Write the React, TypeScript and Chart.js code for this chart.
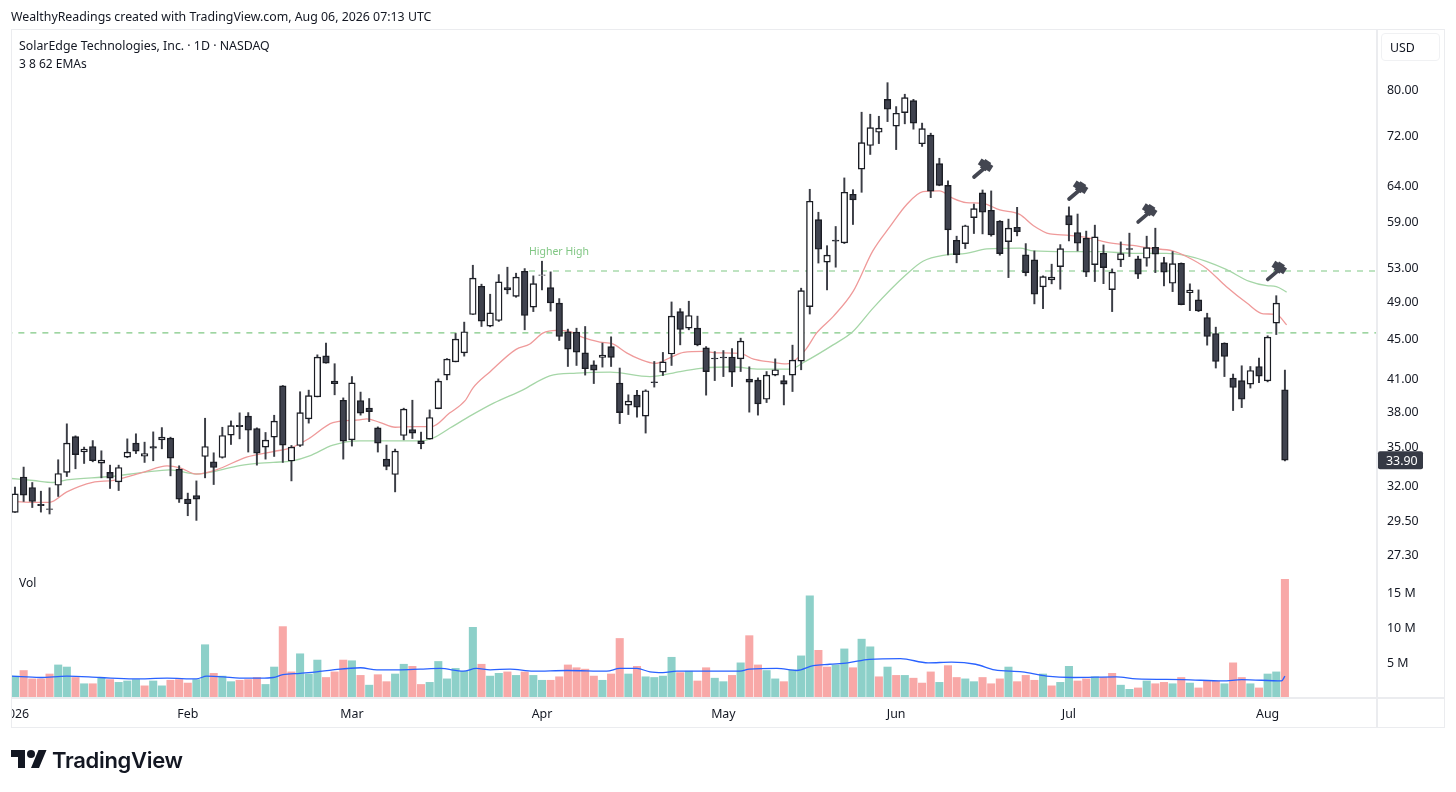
import React, { useEffect, useRef } from "react";
import { Chart, registerables } from "chart.js";

Chart.register(...registerables);

const opens = [30.04,32.6,31.82,30.6,30.29,31.99,32.95,35.8,34.56,34.99,33.67,32.95,32.24,34.14,35.26,34.22,34.99,35.53,35.67,33.2,30.98,31.24,34.19,33.77,34.11,35.92,36.75,37.53,36.47,34.94,35.75,40.26,33.83,35.07,37.3,39.24,43.15,40.7,38.94,35.53,38.91,38.23,36.53,33.98,32.79,35.89,36.39,35.45,35.59,38.19,41.27,42.55,43.45,47.48,50.69,46.22,46.83,50.53,49.52,52.48,48.29,51.96,50.53,48.74,45.62,45.59,43.45,42.27,42.99,44.08,40.51,38.5,39.4,37.53,40.63,41.56,43.33,47.8,46,46,43.95,42.92,43.03,43.03,42.85,40.89,40.79,39.03,41.27,40.75,41.27,42.63,48.36,59.14,53.59,56.4,56.03,62.71,66.45,70.19,72.38,78.1,73.4,75.74,77.87,70.47,71.89,67.3,64,56.38,55.94,59.41,62.9,60.43,58.93,56.2,58.1,54.5,53.87,50.61,51.44,53.04,59.69,57.4,56.64,53.28,54.71,50.3,53.87,55.3,54,54.08,55.47,53.54,51.04,53.46,49.95,49.11,47.15,45.44,44.44,40.98,40.75,40.42,42.1,40.72,46.55,39.89];
const highs = [31.85,33.36,32.19,31.55,31.8,33.93,36.87,35.86,34.94,35.47,34.64,33.51,33.51,35.61,36.03,35.34,36.19,36.55,35.75,33.46,31.41,32.31,37.35,34.48,36.58,37.12,37.82,37.84,36.53,36.14,37.61,40.29,35.07,39.71,39.86,43.25,44.44,42.37,39.15,41.13,39.68,39.09,36.61,35.1,34.78,38.23,38.94,36.17,38.08,40.91,42.88,45.44,46.65,53.21,50.93,49.76,52.07,52.97,52.24,52.8,51.92,53.71,52.4,49.26,45.9,46,46.18,42.66,44.44,45.09,41.95,39.43,39.83,39.89,42.59,43.49,48.88,48.13,48.96,47.3,44.08,43.58,43.68,43.88,44.95,42.07,41.01,41.61,42.85,41.23,44.23,50.46,63.43,60.15,55.67,58.2,65.12,63.37,75.81,75.46,75.1,81.17,76.8,79.03,78.1,73.92,72.22,68.15,64.67,56.91,58.38,61.3,63.33,63.19,59,59.2,60.84,55.94,55,51.92,53.34,55.81,60.9,59.9,57.58,58.38,55.77,52.76,56.16,57.31,54.34,56.91,57.97,54.2,54.92,53.5,50.97,50.26,47.62,46.11,44.47,41.37,42.17,42.1,42.93,45.2,49.59,41.75];
const lows = [30.04,30.81,30.38,30.06,29.93,31.17,32.64,33.23,33.64,33.77,32.54,31.75,31.6,34.09,34.42,33.72,33.85,34.8,32.69,30.74,29.81,29.49,32.54,32.04,34.06,35.15,35.61,34.54,33.51,33.98,34.19,33.72,32.31,34.99,36.93,39.24,42.43,39.43,33.98,35.02,37.62,37.06,34.54,33.15,31.5,35.53,35.64,34.8,35.59,38.17,40.82,42.55,43.12,47.48,46.18,46.15,46.72,49.8,49.41,45.83,47.8,50.26,47.85,44.71,42.1,42.2,41.27,40.47,42.04,42.1,36.89,37.67,37.44,36.09,40.14,41.23,42.2,44.26,45.83,44.16,39.4,40.75,41.13,40.19,41.61,37.88,37.62,38.73,41.2,38.52,39.73,41.78,47.53,53.48,50.26,52.97,55.95,58.47,62.99,68.75,70.5,74.18,69.53,73.8,72.89,70.04,62.22,63.95,54.5,53.51,55.3,57.26,57.21,56.91,54.46,51.71,56.95,51.92,48.66,48.13,50.97,50.34,56.29,55,51.83,51.24,50.99,47.8,53.04,54.29,51.6,53.09,52.31,50.73,50.06,48.55,47.91,47.8,44.23,41.95,41.13,38.02,38.28,40.05,40.56,40.63,45.33,33.84];
const closes = [31.36,31.27,30.81,30.52,30.24,32.87,35.26,34.33,34.78,33.85,33.9,32.52,33.33,34.54,34.62,34.42,34.86,35.75,34.06,30.98,30.65,30.98,34.99,33.33,35.89,36.72,36.63,36.33,34.46,35.5,37.1,35.1,34.94,37.84,39.36,43.02,42.43,40.45,35.42,40.54,37.79,37.93,35.26,33.41,34.62,38.14,36.09,35.21,37.41,40.7,42.83,44.85,45.62,51.64,46.76,47.66,51.2,50.26,51.76,47.37,51,52.04,48.77,45.12,43.82,43.52,41.88,41.75,43.22,42.99,37.84,38.86,38.32,39.8,40.56,42.55,47.3,45.86,47.37,44.26,41.61,42.84,42.95,41.56,44.65,40.6,38.61,41.27,41.78,40.42,42.73,50.18,61.7,55.21,54.46,56.26,63,61.89,70.66,73.16,73.06,76.33,75.63,78.42,73.92,72.99,63.14,64,57.75,54.54,58.3,60.65,60.15,57.08,54.66,57.97,57.52,52.31,49.76,51.83,51.76,55.3,58.42,55.99,52.36,56.81,52.92,52.36,54.66,55.2,52.11,55.42,54.59,52.36,53.41,48.58,50.23,47.88,45.12,42.59,43.08,40.1,39.03,41.71,41.17,45.06,48.74,33.9];

const volumes = [3.0,3.8,2.6,2.6,3.3,4.6,4.3,2.8,1.9,1.9,2.7,2.5,2.1,2.3,2.5,1.6,2.3,1.6,2.4,2.5,2.0,2.5,7.5,3.4,3.0,2.2,2.4,2.5,2.8,1.8,4.3,10.1,3.6,6.2,3.3,5.3,2.8,3.6,5.3,5.2,3.1,1.7,3.2,2.2,3.3,4.7,4.4,1.8,2.1,5.1,2.6,4.1,3.7,10.0,4.7,3.0,3.4,3.6,3.1,3.6,3.1,2.4,2.4,2.9,4.6,4.2,4.0,3.0,2.4,3.3,8.4,3.3,4.4,2.9,2.8,3.0,5.7,3.5,3.7,2.3,4.2,2.7,2.2,3.1,4.9,8.8,4.6,3.8,2.6,2.2,3.9,5.9,14.5,6.7,4.3,4.6,6.9,4.2,8.3,7.2,2.9,4.3,3.1,3.1,2.7,2.0,3.6,2.1,4.5,2.8,2.6,2.2,2.8,1.9,2.6,4.3,2.2,3.1,2.4,3.3,1.6,2.1,4.4,2.3,2.6,2.9,2.8,3.4,1.7,1.1,1.3,2.3,1.9,2.1,1.9,2.8,2.0,1.3,2.3,2.3,1.9,4.9,2.8,1.9,1.3,3.3,3.6,16.9];
const volumeDirection = "GRRRRGGRGRGRGGGRGGRRRGGRGGRRRGGRRGGGRRRGRGRRGGRRGGGGGGRGGRGRGGRRRRRRGRRGRGGGGRGRRGGRGRRGGRGGGRRGGRGGRGRGRRRGRRGGRRRGRRRGRGGRRGRRGGRGRRGRGRRRGRRGRGGR".split("");

const emaFastIdx = [0,2.1,4,6,9,11.4,14.9,17.6,19.1,21,23.3,26.8,29.9,32,34.1,36.8,39.9,40.7,42.2,44,46.1,48.2,50.3,52.1,53,55,58,59.6,61.1,62.7,64.2,65.8,67.7,69.2,70.8,72.3,74.1,75.8,77.4,79.7,81.2,83.9,85.5,87.4,89.3,91.5,92.8,94.7,97,99.3,101.3,103.2,105.1,107,108.6,110.1,112,114,116.3,117.9,119.8,121.7,124,126.4,129.4,131.4,134,135.6,137.9,140.2,142.6,144.5,146,147.2];
const emaFastVal = [30.8,30.75,30.75,31.5,32.2,32.35,32.97,33.45,33.3,32.82,33.15,34.14,34.58,34.9,35.67,36.97,37.21,37.3,37,36.58,36.63,36.63,37.8,38.9,40.05,41.6,43.8,44.35,45.48,45.77,45.65,45,44.55,44.35,43.45,42.82,42.4,42.95,43.5,43.6,43.45,43.4,42.82,42.55,42.35,43.75,45.5,47.25,50.05,55,58.2,61.2,63.1,63.2,62.1,61.5,61.4,60.47,59.85,58.3,57.2,57.05,56.75,56.1,55.7,55.35,55,54.3,52.85,50.65,48.75,47.55,47.5,46.35];

const emaSlowIdx = [-0.4,2.1,4.4,6,11,14.9,17.9,21,23,26,29.9,32,34.1,36.8,39.9,47,48.4,50.3,52.9,55.4,58.8,61.9,65,68.9,73.5,77,79.7,83.1,86.2,89.7,91.5,94.7,97,99.3,103.2,105.1,107.8,110.1,112.5,116.3,117.9,121.7,125.6,129.4,133.3,135.6,137.9,140.2,142.9,144.9,146,147.2];
const emaSlowVal = [32.49,32.34,32.19,32.39,32.64,32.95,33.15,32.84,33.02,33.48,33.73,33.83,34.24,35.1,35.45,35.45,35.68,36.49,37.64,38.68,39.89,41.2,41.46,41.56,41.13,41.61,41.95,42.05,41.85,41.85,42.6,44.26,45.65,48.16,52.1,53.7,54.5,54.7,55.25,55.35,55,54.9,54.9,54.7,54.7,54.4,53.7,52.7,51.25,50.75,50.65,50];

const volMaIdx = [-0.4,2.9,6,9.8,13.7,17.6,21,22.2,24.1,26,28.4,29.9,31,33,34.9,36.8,40,41.9,44.3,46.9,49.2,51.9,53.4,55,57.3,60,63.9,68.5,70,72,73.5,75,76.6,83.9,85,88.2,90.5,92.4,94.3,96.4,98.9,102.5,105.7,108.4,111.2,113.4,116.6,119.4,122.5,127.5,129.8,135.2,139.8,142,146.6,147];
const volMaVal = [3,2.8,3,2.8,2.6,2.7,2.6,3,2.9,2.7,2.7,2.8,3.2,3.4,3.6,3.9,4.2,3.9,3.9,4,4.1,3.7,4.1,3.9,4,3.7,3.8,3.7,4.1,4.1,3.6,3.5,3.7,3.7,4,4.1,3.8,4.5,4.7,4.9,5.4,5.5,4.9,5,4.7,3.9,3.6,3,2.8,2.9,2.6,2.5,2.3,2.5,2.3,3];

const priceTicks = [80,72,64,59,53,49,45,41,38,35,32,29.5,27.3];
const volumeTicks = [5,10,15];
const timeTickIdx = [0,20,39,61,82,102,122,145];
const timeTickLabels = ["2026","Feb","Mar","Apr","May","Jun","Jul","Aug"];

const supportLevel = 45.5;
const resistanceLevel = 52.5;
const resistanceStartIdx = 59.5;
const annotationText = "Higher High";
const annotationIdx = 59.5;
const annotationPrice = 54.8;
const hammerIdx = [112,123,131,146];
const hammerPrice = [66.4,63.1,59.85,52.4];

const UI_FONT = '"Noto Sans", sans-serif';
const AXIS_FONT = { family: UI_FONT, size: 12.4 };
const FRAME = "#ebecef";
const lastBar = closes.length - 1;

const framePlugin = {
  id: "frame",
  beforeDraw(chart: any) {
    if (chart.$labelsNudged) return;
    chart.$labelsNudged = true;
    for (const id of ["y", "yVol"]) {
      chart.scales[id].getLabelItems(chart.chartArea).forEach((item: any) => {
        item.options.translation[1] += 1.5;
      });
    }
  },
  afterDraw(chart: any) {
    const { ctx, chartArea: a, scales } = chart;
    ctx.save();
    // hide the part of the first time label that falls left of the pane
    ctx.fillStyle = "#fff";
    ctx.fillRect(0, a.bottom + 1, a.left, 31);
    ctx.strokeStyle = FRAME;
    ctx.lineWidth = 1;
    ctx.strokeRect(a.left + 0.5, a.top + 0.5, 1433, 698);
    ctx.lineWidth = 2;
    ctx.beginPath();
    ctx.moveTo(a.right, a.top);
    ctx.lineTo(a.right, a.top + 698);
    ctx.moveTo(a.left, a.bottom + 1);
    ctx.lineTo(a.left + 1433, a.bottom + 1);
    ctx.stroke();
    // last price tag
    const y = scales.y.getPixelForValue(closes[lastBar]);
    ctx.fillStyle = "#363a45";
    ctx.beginPath();
    ctx.roundRect(a.right + 1, y - 9, 45, 18, 2);
    ctx.fill();
    ctx.fillStyle = "#fff";
    ctx.font = `12.4px ${UI_FONT}`;
    ctx.textBaseline = "middle";
    ctx.textAlign = "left";
    ctx.fillText(closes[lastBar].toFixed(2), a.right + 9, y + 1);
    ctx.restore();
  },
  afterDatasetsDraw(chart: any) {
    const { ctx, scales } = chart;
    ctx.save();
    ctx.fillStyle = "#81c784";
    ctx.font = `10.5px ${UI_FONT}`;
    ctx.textBaseline = "middle";
    ctx.textAlign = "left";
    ctx.fillText(annotationText, scales.x.getPixelForValue(annotationIdx), scales.y.getPixelForValue(annotationPrice));
    ctx.fillStyle = "#434651";
    ctx.strokeStyle = "#434651";
    hammerIdx.forEach((idx, k) => {
      const cx = scales.x.getPixelForValue(idx);
      const cy = scales.y.getPixelForValue(hammerPrice[k]);
      ctx.save();
      ctx.translate(cx, cy);
      ctx.lineCap = "round";
      ctx.lineWidth = 3.8;
      ctx.beginPath();
      ctx.moveTo(-8.5, 7.5);
      ctx.lineTo(1.5, -1);
      ctx.stroke();
      ctx.translate(3, -4.3);
      ctx.rotate((33 * Math.PI) / 180);
      ctx.fillRect(-7, -3.5, 14, 7);
      ctx.fillRect(-3.5, -5, 7, 10);
      ctx.restore();
    });
    ctx.restore();
  },
};

const textStyle = (left: number, top: number, extra: React.CSSProperties = {}): React.CSSProperties => ({
  position: "absolute",
  left,
  top,
  fontFamily: UI_FONT,
  fontSize: 12.35,
  lineHeight: "16px",
  color: "#131722",
  whiteSpace: "nowrap",
  ...extra,
});

export default function App() {
  const ref = useRef<HTMLCanvasElement | null>(null);

  useEffect(() => {
    if (!ref.current) return;
    const idx = closes.map((_, i) => i);
    const chart = new Chart(ref.current, {
      type: "bar",
      data: {
        datasets: [
          {
            type: "bar",
            yAxisID: "y",
            order: 1,
            grouped: false,
            barThickness: 6.6,
            borderSkipped: false,
            borderWidth: 1.4,
            borderColor: "#1b1d24",
            backgroundColor: idx.map((i) => (closes[i] >= opens[i] ? "#ffffff" : "#3f424e")),
            data: idx.map((i) => ({ x: i, y: [opens[i], closes[i]] })),
          },
          {
            type: "bar",
            yAxisID: "y",
            order: 2,
            grouped: false,
            barThickness: 1.3,
            borderWidth: 0,
            backgroundColor: "#3b3d45",
            data: idx.map((i) => ({ x: i, y: [lows[i], highs[i]] })),
          },
          {
            type: "line",
            yAxisID: "y",
            order: 3,
            borderColor: "#ef9a9a",
            borderWidth: 1.3,
            pointRadius: 0,
            cubicInterpolationMode: "monotone",
            data: emaFastIdx.map((x, i) => ({ x, y: emaFastVal[i] })),
          },
          {
            type: "line",
            yAxisID: "y",
            order: 4,
            borderColor: "#a5d6a7",
            borderWidth: 1.3,
            pointRadius: 0,
            cubicInterpolationMode: "monotone",
            data: emaSlowIdx.map((x, i) => ({ x, y: emaSlowVal[i] })),
          },
          {
            type: "line",
            yAxisID: "y",
            order: 5,
            borderColor: "#7fc783",
            borderWidth: 1.1,
            borderDash: [6, 6],
            pointRadius: 0,
            data: [
              { x: -1, y: supportLevel },
              { x: 160, y: supportLevel },
            ],
          },
          {
            type: "line",
            yAxisID: "y",
            order: 5,
            borderColor: "#7fc783",
            borderWidth: 1.1,
            borderDash: [6, 6],
            pointRadius: 0,
            data: [
              { x: resistanceStartIdx, y: resistanceLevel },
              { x: 160, y: resistanceLevel },
            ],
          },
          {
            type: "line",
            yAxisID: "yVol",
            order: 6,
            borderColor: "#2962ff",
            borderWidth: 1.3,
            pointRadius: 0,
            cubicInterpolationMode: "monotone",
            data: volMaIdx.map((x, i) => ({ x, y: volMaVal[i] })),
          },
          {
            type: "bar",
            yAxisID: "yVol",
            order: 7,
            grouped: false,
            barThickness: 7.4,
            borderWidth: 0,
            backgroundColor: volumeDirection.map((d) => (d === "G" ? "#8dd0c9" : "#f8a8a7")),
            data: idx.map((i) => ({ x: i, y: volumes[i] })),
          },
        ] as any,
      },
      plugins: [framePlugin],
      options: {
        animation: false,
        responsive: false,
        maintainAspectRatio: false,
        layout: { padding: { left: 11, top: 29, right: 14, bottom: 65 } },
        plugins: { legend: { display: false }, tooltip: { enabled: false } },
        scales: {
          x: {
            type: "linear",
            offset: false,
            bounds: "data",
            min: -0.463,
            max: 157.66,
            grid: { display: false, drawTicks: false },
            border: { display: false },
            afterBuildTicks: (s: any) => {
              s.ticks = timeTickIdx.map((value) => ({ value }));
            },
            afterFit: (s: any) => {
              s.height = 30;
              s.paddingLeft = 0;
              s.paddingRight = 0;
            },
            ticks: {
              autoSkip: false,
              maxRotation: 0,
              padding: 10,
              color: "#131722",
              font: AXIS_FONT,
              callback: (v: any) => timeTickLabels[timeTickIdx.indexOf(Number(v))] ?? "",
            },
          },
          y: {
            type: "logarithmic",
            position: "right",
            bounds: "data",
            min: 19.6,
            max: 91.9,
            weight: 2,
            grid: { display: false, drawTicks: false },
            border: { display: false },
            afterBuildTicks: (s: any) => {
              s.ticks = priceTicks.map((value) => ({ value }));
            },
            afterFit: (s: any) => {
              s.width = 65;
              s.paddingTop = 0;
              s.paddingBottom = 0;
            },
            ticks: {
              autoSkip: false,
              padding: 10,
              color: "#131722",
              font: AXIS_FONT,
              callback: (v: any) => Number(v).toFixed(2),
            },
          },
          yVol: {
            type: "linear",
            position: "right",
            bounds: "data",
            min: 0,
            max: 95.84,
            weight: 1,
            grid: { display: false, drawTicks: false },
            border: { display: false },
            afterBuildTicks: (s: any) => {
              s.ticks = volumeTicks.map((value) => ({ value }));
            },
            afterFit: (s: any) => {
              s.width = 0;
              s.paddingTop = 0;
              s.paddingBottom = 0;
              s._computeLabelArea = () => undefined;
            },
            ticks: {
              autoSkip: false,
              padding: 10,
              color: "#131722",
              font: AXIS_FONT,
              callback: (v: any) => `${v} M`,
            },
          },
        },
      } as any,
    });
    return () => chart.destroy();
  }, []);

  return (
    <div style={{ position: "absolute", left: 0, top: 0, width: 1456, height: 792, background: "#fff", overflow: "hidden" }}>
      <canvas ref={ref} width={1456} height={792} style={{ position: "absolute", left: 0, top: 0, width: 1456, height: 792 }} />
      <div style={textStyle(11, 9)}>WealthyReadings created with TradingView.com, Aug 06, 2026 07:13 UTC</div>
      <div style={textStyle(19, 38)}>SolarEdge Technologies, Inc. · 1D · NASDAQ</div>
      <div style={textStyle(19, 56, { fontSize: 12 })}>3 8 62 EMAs</div>
      <div style={textStyle(19, 575, { fontSize: 12 })}>Vol</div>
      <div
        style={{
          position: "absolute",
          left: 1381,
          top: 33,
          width: 59,
          height: 28,
          border: "1px solid #f0f1f3",
          borderRadius: 4,
          boxSizing: "border-box",
        }}
      />
      <div style={textStyle(1390, 40)}>USD</div>
      <svg style={{ position: "absolute", left: 11, top: 746 }} width="36" height="28" viewBox="0 0 36 28">
        <path fill="#131722" d="M14 22H7V11H0V4h14v18zM28 22h-8l7.5-18h8L28 22z" />
        <circle fill="#131722" cx="20" cy="8" r="4" />
      </svg>
      <div style={textStyle(52, 745, { fontFamily: "Inter, sans-serif", fontWeight: 600, fontSize: 22, lineHeight: "30px", letterSpacing: -0.3 })}>
        TradingView
      </div>
    </div>
  );
}
